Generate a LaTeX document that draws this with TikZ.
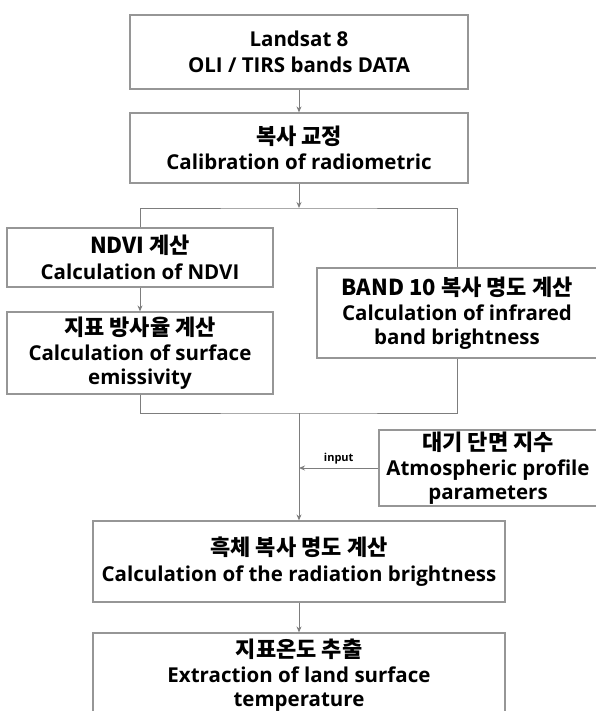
\documentclass[tikz,border=0pt]{standalone}
\usepackage{fontspec}
\setmainfont{Open Sans}
\newfontfamily\kr{Noto Sans CJK KR}
\usetikzlibrary{arrows.meta}

\definecolor{boxline}{RGB}{150,150,150}
\definecolor{linkline}{RGB}{125,125,125}
\tikzset{
  stage/.style={draw=boxline, line width=1.2pt, rectangle, inner sep=0pt,
    align=center, font=\bfseries\fontsize{20.5}{23.5}\selectfont},
  link/.style={draw=linkline, line width=0.9pt},
  flow/.style={link, -{Stealth[length=6pt,width=5pt]}}
}
\newcommand{\kor}[1]{{\kr\bfseries\fontsize{22}{27}\selectfont #1}\\[2pt]}

\begin{document}
\begin{tikzpicture}[x=1pt,y=-1pt]
  \useasboundingbox (0,0) rectangle (595,711);
  % main column
  \node[stage, minimum width=338pt, minimum height=74pt] (landsat) at (299,52) {Landsat 8\\[3pt]OLI / TIRS bands DATA};
  \node[stage, minimum width=338pt, minimum height=70pt] (calib) at (299,148) {\kor{복사 교정}Calibration of radiometric};
  % two branches
  \node[stage, minimum width=266pt, minimum height=59pt] (ndvi) at (140,257.5) {\kor{NDVI 계산}Calculation of NDVI};
  \node[stage, minimum width=266pt, minimum height=82pt] (emis) at (140,353) {\kor{지표 방사율 계산}Calculation of surface\\emissivity};
  \node[stage, minimum width=280pt, minimum height=90pt] (band) at (457,313) {\kor{BAND 10 복사 명도 계산}Calculation of infrared\\band brightness};
  \node[stage, minimum width=218pt, minimum height=76pt] (atmo) at (488,468) {\kor{대기 단면 지수}Atmospheric profile\\parameters};
  % lower column
  \node[stage, minimum width=412pt, minimum height=81pt] (black) at (299,561.5) {\kor{흑체 복사 명도 계산}Calculation of the radiation brightness};
  \node[stage, minimum width=412pt, minimum height=84pt] (lst) at (299,675) {\kor{지표온도 추출}Extraction of land surface\\temperature};

  \coordinate (fork) at (299,208);
  \coordinate (join) at (299,413);

  \draw[flow] (landsat.south) -- (calib.north);
  \draw[flow] (calib.south) -- (fork);
  \draw[link] (ndvi.north) |- (fork) -| (band.north);
  \draw[flow] (ndvi) -- (emis);
  \draw[link] (emis.south) |- (join) -| (band.south);
  \draw[flow] (join) -- (black.north);
  \draw[flow] (atmo.west) -- (atmo.west -| join) node[midway, above, font=\bfseries\fontsize{11}{13}\selectfont] {input};
  \draw[flow] (black) -- (lst);
\end{tikzpicture}
\end{document}
